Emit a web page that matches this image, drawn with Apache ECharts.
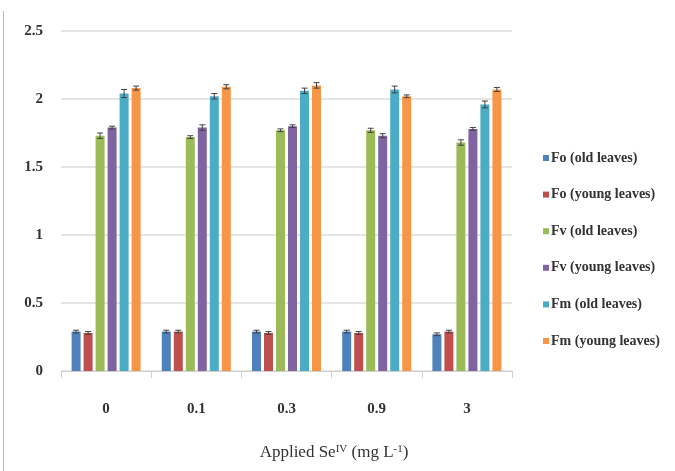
<!DOCTYPE html>
<html><head><meta charset="utf-8">
<script src="https://cdn.jsdelivr.net/npm/echarts@6/dist/echarts.min.js"></script>
<style>html,body{margin:0;padding:0;background:#fff}#c{width:675px;height:471px}</style>
</head><body><div id="c"></div>
<script>
const categories = ['0', '0.1', '0.3', '0.9', '3'];
const seriesNames = ['Fo (old leaves)', 'Fo (young leaves)', 'Fv (old leaves)', 'Fv (young leaves)', 'Fm (old leaves)', 'Fm (young leaves)'];
const foOld = [0.29, 0.29, 0.29, 0.29, 0.27];
const foYoung = [0.28, 0.29, 0.28, 0.28, 0.29];
const fvOld = [1.73, 1.72, 1.77, 1.77, 1.68];
const fvYoung = [1.79, 1.79, 1.80, 1.73, 1.78];
const fmOld = [2.04, 2.02, 2.06, 2.07, 1.96];
const fmYoung = [2.08, 2.09, 2.10, 2.02, 2.07];
const foOldErr = [0.01, 0.01, 0.01, 0.01, 0.01];
const foYoungErr = [0.01, 0.01, 0.01, 0.01, 0.01];
const fvOldErr = [0.02, 0.01, 0.01, 0.015, 0.02];
const fvYoungErr = [0.01, 0.02, 0.01, 0.015, 0.01];
const fmOldErr = [0.03, 0.02, 0.02, 0.025, 0.025];
const fmYoungErr = [0.015, 0.015, 0.02, 0.01, 0.015];
const yTicks = [0, 0.5, 1, 1.5, 2, 2.5];

const values = [foOld, foYoung, fvOld, fvYoung, fmOld, fmYoung];
const errs = [foOldErr, foYoungErr, fvOldErr, fvYoungErr, fmOldErr, fmYoungErr];
const colors = ['#4F81BD', '#C0504D', '#9BBB59', '#8064A2', '#4BACC6', '#F79646'];
const BW = 9, GAP = 3;

const series = [];
values.forEach((v, k) => {
  series.push({
    name: seriesNames[k], type: 'bar', data: v, barWidth: BW, barGap: (GAP / BW * 100) + '%',
    itemStyle: { color: colors[k] }, z: 2
  });
});
values.forEach((v, k) => {
  series.push({
    type: 'custom', name: seriesNames[k] + ' err', z: 5, silent: true,
    data: v.map((val, i) => [i, val, errs[k][i]]),
    renderItem: function (params, api) {
      const i = api.value(0), val = api.value(1), e = api.value(2);
      const off = (k - 2.5) * (BW + GAP);
      const hi = api.coord([i, val + e]);
      const lo = api.coord([i, val - e]);
      const x = hi[0] + off;
      const style = { stroke: '#404040', lineWidth: 1 };
      return { type: 'group', children: [
        { type: 'line', shape: { x1: x, y1: hi[1], x2: x, y2: lo[1] }, style },
        { type: 'line', shape: { x1: x - 3, y1: hi[1], x2: x + 3, y2: hi[1] }, style },
        { type: 'line', shape: { x1: x - 3, y1: lo[1], x2: x + 3, y2: lo[1] }, style }
      ] };
    }
  });
});

const chart = echarts.init(document.getElementById('c'), null, { renderer: 'canvas' });
chart.setOption({
  animation: false,
  backgroundColor: '#fff',
  textStyle: { fontFamily: 'Liberation Serif' },
  grid: { left: 61, right: 163, top: 31, bottom: 100, containLabel: false },
  legend: {
    data: seriesNames, orient: 'vertical', left: 538, top: 146,
    itemWidth: 6, itemHeight: 6, itemGap: 22.6, icon: 'rect',
    textStyle: { fontFamily: 'Liberation Serif', fontSize: 14, fontWeight: 'bold', color: '#333', padding: [0, 0, 0, -3] }
  },
  xAxis: {
    type: 'category', data: categories,
    axisLine: { lineStyle: { color: '#d0d0d0', width: 1 } },
    axisTick: { show: true, length: 7, lineStyle: { color: '#d0d0d0' } },
    axisLabel: { fontSize: 15, color: '#333', margin: 31, fontFamily: 'Liberation Serif', fontWeight: 'bold' }
  },
  yAxis: {
    type: 'value', min: yTicks[0], max: yTicks[yTicks.length - 1], interval: 0.5,
    axisLine: { show: false }, axisTick: { show: false },
    splitLine: { lineStyle: { color: '#dcdcdc', width: 1.5 } },
    axisLabel: { fontSize: 15, color: '#333', margin: 18, fontFamily: 'Liberation Serif', fontWeight: 'bold' }
  },
  graphic: [
    { type: 'line', shape: { x1: 3.5, y1: 11, x2: 3.5, y2: 471 }, style: { stroke: '#b8b8b8', lineWidth: 1 } },
    { type: 'text', x: 334, y: 453, style: {
      text: '{a|Applied Se}{s|IV}{a| (mg L}{s|-1}{a|)}', align: 'center', verticalAlign: 'middle',
      rich: {
        a: { fontSize: 17, fontFamily: 'Liberation Serif', fill: '#333' },
        s: { fontSize: 11, fontFamily: 'Liberation Serif', fill: '#333', verticalAlign: 'top', padding: [0, 0, 8, 0] }
      } } }
  ],
  series
});
</script></body></html>
